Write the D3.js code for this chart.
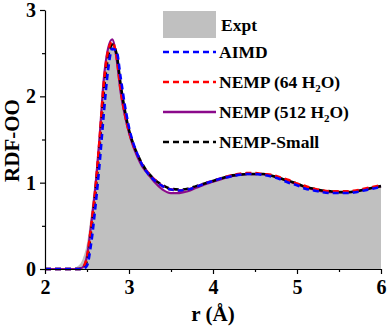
<!DOCTYPE html>
<html>
<head>
<meta charset="utf-8">
<script src="https://cdn.jsdelivr.net/npm/d3@7"></script>
<style>
  body { margin: 0; background: #fff; }
  text { font-family: 'Liberation Serif', 'Times New Roman', serif; font-weight: bold; }
</style>
</head>
<body>
<svg id="chart" width="387" height="327"></svg>
<script>
// r grid shared by all series (Å)
var rVals = [2.0, 2.3, 2.4, 2.45, 2.5, 2.55, 2.6, 2.65, 2.7, 2.75, 2.8, 2.85, 2.9, 2.95, 3.0, 3.05, 3.1, 3.15, 3.2, 3.25, 3.3, 3.4, 3.5, 3.6, 3.7, 3.8, 3.9, 4.0, 4.1, 4.2, 4.3, 4.4, 4.5, 4.6, 4.7, 4.8, 4.9, 5.0, 5.1, 5.2, 5.3, 5.4, 5.5, 5.6, 5.7, 5.8, 5.9, 6.0];

var exptVals    = [0, 0, 0.04, 0.12, 0.3, 0.66, 1.1, 1.62, 2.15, 2.5, 2.62, 2.47, 2.1, 1.8, 1.57, 1.41, 1.29, 1.19, 1.12, 1.06, 1.0, 0.92, 0.88, 0.88, 0.9, 0.94, 0.98, 1.01, 1.04, 1.07, 1.09, 1.1, 1.1, 1.1, 1.08, 1.05, 1.02, 0.98, 0.95, 0.92, 0.9, 0.89, 0.89, 0.89, 0.9, 0.92, 0.94, 0.96];
var aimdVals    = [0, 0, 0, 0, 0.04, 0.3, 0.72, 1.22, 1.8, 2.3, 2.55, 2.53, 2.22, 1.9, 1.64, 1.46, 1.33, 1.22, 1.14, 1.08, 1.03, 0.96, 0.92, 0.91, 0.92, 0.95, 0.99, 1.02, 1.05, 1.07, 1.09, 1.1, 1.1, 1.09, 1.07, 1.04, 1.0, 0.97, 0.93, 0.91, 0.89, 0.88, 0.88, 0.88, 0.89, 0.91, 0.93, 0.95];
var nemp64Vals  = [0, 0, 0, 0.02, 0.14, 0.5, 0.93, 1.5, 2.15, 2.52, 2.63, 2.47, 2.08, 1.8, 1.59, 1.44, 1.32, 1.22, 1.15, 1.09, 1.04, 0.96, 0.92, 0.91, 0.92, 0.95, 0.99, 1.02, 1.05, 1.08, 1.1, 1.11, 1.11, 1.1, 1.09, 1.06, 1.03, 0.99, 0.96, 0.93, 0.91, 0.9, 0.9, 0.9, 0.91, 0.93, 0.95, 0.97];
var nemp512Vals = [0, 0, 0, 0.02, 0.15, 0.52, 0.95, 1.53, 2.2, 2.55, 2.66, 2.45, 2.05, 1.78, 1.58, 1.42, 1.3, 1.2, 1.13, 1.07, 1.01, 0.92, 0.88, 0.88, 0.9, 0.94, 0.98, 1.01, 1.04, 1.07, 1.09, 1.1, 1.1, 1.1, 1.08, 1.05, 1.02, 0.98, 0.95, 0.92, 0.9, 0.89, 0.89, 0.89, 0.9, 0.92, 0.94, 0.96];
var smallVals   = [0, 0, 0, 0.01, 0.1, 0.45, 0.88, 1.42, 2.05, 2.45, 2.6, 2.5, 2.14, 1.84, 1.61, 1.45, 1.33, 1.23, 1.15, 1.09, 1.04, 0.97, 0.93, 0.92, 0.93, 0.96, 0.99, 1.02, 1.05, 1.08, 1.09, 1.1, 1.1, 1.1, 1.08, 1.05, 1.02, 0.99, 0.95, 0.93, 0.91, 0.9, 0.89, 0.89, 0.9, 0.92, 0.94, 0.96];

var xTicks = [2, 3, 4, 5, 6];
var xMinor = [2.5, 3.5, 4.5, 5.5];
var yTicks = [0, 1, 2, 3];
var yMinor = [0.5, 1.5, 2.5];

var series = [
  { name: 'NEMP (512 H2O)', values: nemp512Vals, color: '#8b0a8b', dash: null, width: 2.2 },
  { name: 'NEMP-Small', values: smallVals, color: '#000000', dash: '6,4', width: 2.6 },
  { name: 'NEMP (64 H2O)', values: nemp64Vals, color: '#ff0000', dash: '6,4', width: 2.6 },
  { name: 'AIMD', values: aimdVals, color: '#0000ff', dash: '6,4', width: 2.6 }
];

var legendItems = [
  { label: 'AIMD', sub: null, color: '#0000ff', dash: '6,4' },
  { label: 'NEMP (64 H', sub: ['2', 'O)'], color: '#ff0000', dash: '6,4' },
  { label: 'NEMP (512 H', sub: ['2', 'O)'], color: '#8b0a8b', dash: null },
  { label: 'NEMP-Small', sub: null, color: '#000000', dash: '6,4' }
];

var margin = { top: 10, left: 45, right: 6, bottom: 58 };
var svg = d3.select('#chart');
var width = +svg.attr('width'), height = +svg.attr('height');

var x = d3.scaleLinear().domain([2, 6]).range([margin.left, width - margin.right]);
var y = d3.scaleLinear().domain([0, 3]).range([height - margin.bottom, margin.top]);

var pts = function(vals) { return rVals.map(function(r, i) { return [r, vals[i]]; }); };

// experimental area
svg.append('path')
   .datum(pts(exptVals))
   .attr('fill', '#c0c0c0')
   .attr('d', d3.area().x(d => x(d[0])).y0(y(0)).y1(d => y(d[1])).curve(d3.curveMonotoneX));

series.forEach(function(s) {
  svg.append('path')
     .datum(pts(s.values))
     .attr('fill', 'none')
     .attr('stroke', s.color)
     .attr('stroke-width', s.width)
     .attr('stroke-dasharray', s.dash)
     .attr('d', d3.line().x(d => x(d[0])).y(d => y(d[1])).curve(d3.curveMonotoneX));
});

// axes
var xAxis = svg.append('g').attr('transform', 'translate(0,' + y(0) + ')')
               .call(d3.axisBottom(x).tickValues(xTicks).tickSize(5).tickSizeOuter(0).tickFormat(d3.format('d')));
svg.append('g').attr('transform', 'translate(0,' + y(0) + ')')
   .call(d3.axisBottom(x).tickValues(xMinor).tickSize(3).tickSizeOuter(0).tickFormat(''))
   .select('.domain').remove();
var yAxis = svg.append('g').attr('transform', 'translate(' + x(2) + ',0)')
               .call(d3.axisLeft(y).tickValues(yTicks).tickSize(5).tickSizeOuter(0).tickFormat(d3.format('d')));
svg.append('g').attr('transform', 'translate(' + x(2) + ',0)')
   .call(d3.axisLeft(y).tickValues(yMinor).tickSize(3).tickSizeOuter(0).tickFormat(''))
   .select('.domain').remove();

svg.selectAll('.domain, .tick line').attr('stroke', '#000').attr('stroke-width', 1.2);
xAxis.selectAll('.tick text').attr('font-size', 20).attr('font-family', 'Liberation Serif').attr('font-weight', 'bold').attr('fill', '#000').attr('dy', '0.85em');
yAxis.selectAll('.tick text').attr('font-size', 20).attr('font-family', 'Liberation Serif').attr('font-weight', 'bold').attr('fill', '#000').attr('dx', '-0.05em');

svg.append('text')
   .attr('x', (x(2) + x(6)) / 2)
   .attr('y', 321)
   .attr('text-anchor', 'middle')
   .attr('font-size', 21)
   .text('r (Å)');

svg.append('text')
   .attr('transform', 'translate(19,' + ((y(0) + y(3)) / 2 + 1) + ') rotate(-90)')
   .attr('text-anchor', 'middle')
   .attr('font-size', 21)
   .text('RDF-OO');

// legend
var lg = svg.append('g');
lg.append('rect').attr('x', 163).attr('y', 11).attr('width', 53).attr('height', 27).attr('fill', '#c0c0c0');
lg.append('text').attr('x', 221).attr('y', 31).attr('font-size', 17.5).text('Expt');

legendItems.forEach(function(item, i) {
  var ly = 52 + i * 30;
  lg.append('line')
    .attr('x1', 163).attr('x2', 216).attr('y1', ly).attr('y2', ly)
    .attr('stroke', item.color).attr('stroke-width', 2.6)
    .attr('stroke-dasharray', item.dash);
  var t = lg.append('text').attr('x', 219).attr('y', ly + 6).attr('font-size', 17.5);
  t.append('tspan').text(item.label);
  if (item.sub) {
    t.append('tspan').attr('font-size', 11).attr('dy', 4).text(item.sub[0]);
    t.append('tspan').attr('dy', -4).text(item.sub[1]);
  }
});
</script>
</body>
</html>
